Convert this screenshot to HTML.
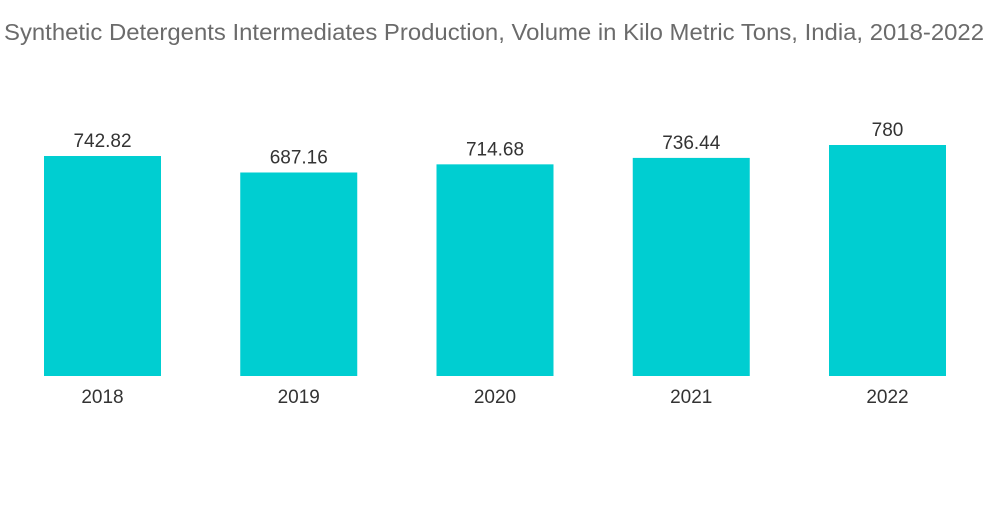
<!DOCTYPE html>
<html>
<head>
<meta charset="utf-8">
<style>
  html,body{margin:0;padding:0;background:#fff;}
  body{width:1000px;height:504px;overflow:hidden;font-family:"Liberation Sans",sans-serif;}
  svg text{font-family:"Liberation Sans",sans-serif;}
</style>
</head>
<body>
<svg id="chart" width="1000" height="504" xmlns="http://www.w3.org/2000/svg">
  <text x="4" y="40" font-size="23" fill="#6b6b6b" textLength="980" lengthAdjust="spacingAndGlyphs">Synthetic Detergents Intermediates Production, Volume in Kilo Metric Tons, India, 2018-2022</text>
  <g id="bars"></g>
</svg>
<script>
const categories = ["2018","2019","2020","2021","2022"];
const values = [742.82, 687.16, 714.68, 736.44, 780];
const valueLabels = ["742.82","687.16","714.68","736.44","780"];

const baseline = 376, pxPerUnit = 231/780;
const firstX = 44, step = 196.25, barW = 117;
function yScale(v){ return baseline - v*pxPerUnit; }
function xScale(i){ return firstX + i*step; }

const g = document.getElementById('bars');
const NS = "http://www.w3.org/2000/svg";
categories.forEach((c,i)=>{
  const x = xScale(i), y = yScale(values[i]);
  const r = document.createElementNS(NS,'rect');
  r.setAttribute('x',x); r.setAttribute('y',y);
  r.setAttribute('width',barW); r.setAttribute('height',baseline-y);
  r.setAttribute('fill','#00ced1');
  
  
  g.appendChild(r);
  const vt = document.createElementNS(NS,'text');
  vt.setAttribute('x',x+barW/2); vt.setAttribute('y',y-9);
  vt.setAttribute('text-anchor','middle'); vt.setAttribute('font-size','19'); vt.setAttribute('fill','#333');
  vt.textContent = valueLabels[i];
  
  
  g.appendChild(vt);
  const ct = document.createElementNS(NS,'text');
  ct.setAttribute('x',x+barW/2); ct.setAttribute('y',403);
  ct.setAttribute('text-anchor','middle'); ct.setAttribute('font-size','19'); ct.setAttribute('fill','#333');
  ct.textContent = c;
  
  
  g.appendChild(ct);
});
</script>
</body>
</html>
